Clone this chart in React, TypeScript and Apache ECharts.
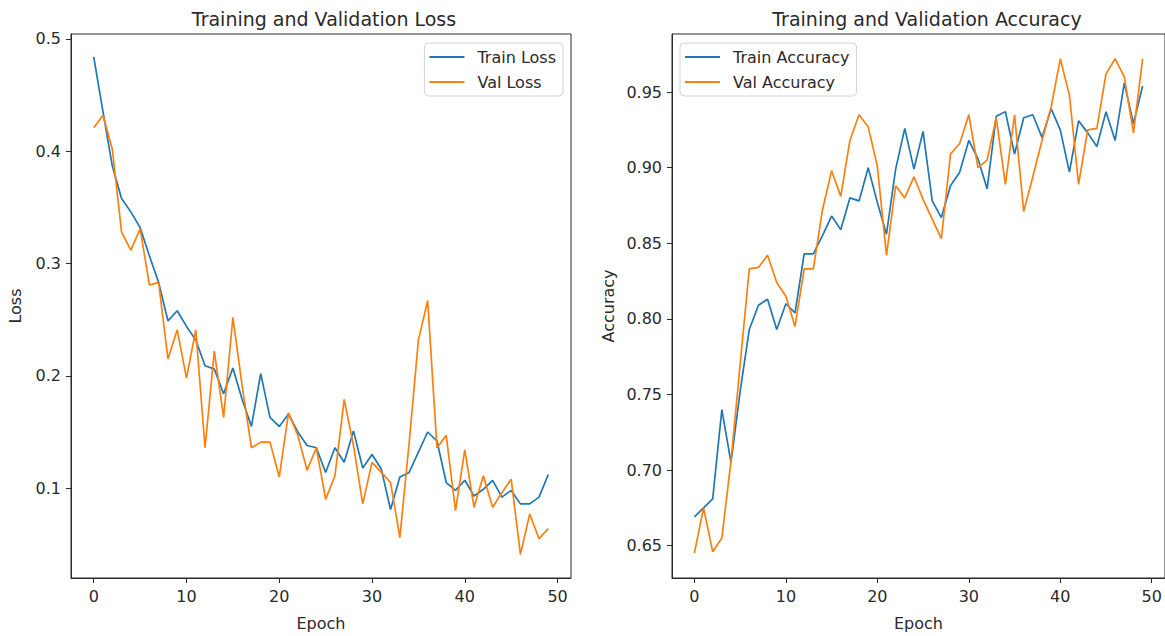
import React, { useEffect, useRef } from "react";
import * as echarts from "echarts";

const epochs: number[] = Array.from({ length: 50 }, (_, i) => i);

const trainLoss: number[] = [
  0.484, 0.435, 0.387, 0.358, 0.346, 0.332, 0.307, 0.283, 0.249, 0.258,
  0.244, 0.232, 0.209, 0.206, 0.184, 0.207, 0.179, 0.155, 0.202, 0.163,
  0.155, 0.166, 0.150, 0.138, 0.136, 0.114, 0.136, 0.123, 0.151, 0.118,
  0.130, 0.117, 0.081, 0.110, 0.114, 0.132, 0.150, 0.142, 0.105, 0.098,
  0.107, 0.093, 0.099, 0.107, 0.092, 0.098, 0.086, 0.086, 0.092, 0.112,
];

const valLoss: number[] = [
  0.421, 0.432, 0.402, 0.328, 0.312, 0.331, 0.281, 0.283, 0.215, 0.241,
  0.198, 0.241, 0.136, 0.222, 0.163, 0.252, 0.191, 0.136, 0.141, 0.141,
  0.110, 0.167, 0.147, 0.116, 0.136, 0.090, 0.111, 0.179, 0.138, 0.086,
  0.123, 0.114, 0.105, 0.056, 0.140, 0.232, 0.267, 0.136, 0.147, 0.080,
  0.134, 0.083, 0.111, 0.083, 0.096, 0.108, 0.041, 0.077, 0.055, 0.064,
];

const trainAcc: number[] = [
  0.669, 0.675, 0.681, 0.740, 0.705, 0.752, 0.793, 0.809, 0.813, 0.793,
  0.810, 0.804, 0.843, 0.843, 0.855, 0.868, 0.859, 0.880, 0.878, 0.900,
  0.877, 0.856, 0.899, 0.926, 0.899, 0.924, 0.878, 0.867, 0.888, 0.897,
  0.918, 0.906, 0.886, 0.934, 0.937, 0.909, 0.933, 0.935, 0.920, 0.939,
  0.925, 0.897, 0.931, 0.923, 0.914, 0.937, 0.918, 0.956, 0.929, 0.954,
];

const valAcc: number[] = [
  0.645, 0.675, 0.646, 0.655, 0.706, 0.770, 0.833, 0.834, 0.842, 0.824,
  0.815, 0.795, 0.833, 0.833, 0.872, 0.898, 0.881, 0.918, 0.935, 0.927,
  0.901, 0.842, 0.888, 0.880, 0.894, 0.879, 0.866, 0.853, 0.909, 0.916,
  0.935, 0.900, 0.905, 0.933, 0.889, 0.935, 0.871, 0.894, 0.918, 0.940,
  0.972, 0.948, 0.889, 0.925, 0.926, 0.962, 0.972, 0.960, 0.923, 0.972,
];

const xTicks: number[] = [0, 10, 20, 30, 40, 50];
const lossTicks: number[] = [0.1, 0.2, 0.3, 0.4, 0.5];
const accTicks: number[] = [0.65, 0.7, 0.75, 0.8, 0.85, 0.9, 0.95];

const BLUE = "#1f77b4";
const ORANGE = "#ff7f0e";
const INK = "#2a2a2a";
const FONT = "DejaVu Sans";

export default function App() {
  const ref = useRef<HTMLDivElement>(null);

  useEffect(() => {
    if (!ref.current) return;
    const chart = echarts.init(ref.current, undefined, { renderer: "svg" });

    const xAxisBase = (gridIndex: number) => ({
      type: "value" as const,
      gridIndex,
      min: -2.45,
      max: 51.45,
      name: "Epoch",
      nameLocation: "middle" as const,
      nameGap: 37,
      nameTextStyle: { color: INK, fontSize: 16, fontFamily: FONT },
      axisLine: { show: true, onZero: false, lineStyle: { color: INK, width: 1 } },
      axisTick: { show: true, length: 5, customValues: xTicks, lineStyle: { color: INK } },
      axisLabel: {
        customValues: xTicks,
        color: INK,
        fontSize: 16,
        fontFamily: FONT,
        margin: 10,
        formatter: (v: number) => String(v),
      },
      splitLine: { show: false },
    });

    const yAxisBase = (
      gridIndex: number,
      name: string,
      min: number,
      max: number,
      ticks: number[],
      digits: number,
      nameGap: number
    ) => ({
      type: "value" as const,
      gridIndex,
      min,
      max,
      name,
      nameLocation: "middle" as const,
      nameGap,
      nameTextStyle: { color: INK, fontSize: 16, fontFamily: FONT },
      axisLine: { show: true, onZero: false, lineStyle: { color: INK, width: 1 } },
      axisTick: { show: true, length: 5, customValues: ticks, lineStyle: { color: INK } },
      axisLabel: {
        customValues: ticks,
        color: INK,
        fontSize: 16,
        fontFamily: FONT,
        margin: 10,
        formatter: (v: number) => v.toFixed(digits),
      },
      splitLine: { show: false },
    });

    const lineSeries = (name: string, data: number[], color: string, idx: number) => ({
      type: "line" as const,
      name,
      xAxisIndex: idx,
      yAxisIndex: idx,
      data: epochs.map((e, i) => [e, data[i]]),
      showSymbol: false,
      symbol: "none",
      lineStyle: { color, width: 1.7 },
      itemStyle: { color },
      z: name.startsWith("Val") ? 3 : 2,
    });

    const legendBase = {
      orient: "vertical" as const,
      top: 43,
      icon: "rect",
      itemWidth: 35,
      itemHeight: 2,
      itemGap: 7,
      padding: [5, 7, 5, 5],
      borderColor: "#d4d4d4",
      borderWidth: 1,
      borderRadius: 4,
      backgroundColor: "rgba(255,255,255,0.8)",
      textStyle: { color: INK, fontSize: 16, fontFamily: FONT, lineHeight: 18, padding: [0, 0, 0, 8] },
    };

    chart.setOption({
      animation: false,
      backgroundColor: "#ffffff",
      textStyle: { fontFamily: FONT },
      title: [
        {
          text: "Training and Validation Loss",
          left: 319,
          top: 4,
          textAlign: "center",
          textStyle: { color: INK, fontSize: 19, fontWeight: "normal", fontFamily: FONT },
        },
        {
          text: "Training and Validation Accuracy",
          left: 922,
          top: 4,
          textAlign: "center",
          textStyle: { color: INK, fontSize: 19, fontWeight: "normal", fontFamily: FONT },
        },
      ],
      legend: [
        {
          ...legendBase,
          right: 602,
          data: [
            { name: "Train Loss", itemStyle: { color: BLUE } },
            { name: "Val Loss", itemStyle: { color: ORANGE } },
          ],
        },
        {
          ...legendBase,
          left: 680,
          data: [
            { name: "Train Accuracy", itemStyle: { color: BLUE } },
            { name: "Val Accuracy", itemStyle: { color: ORANGE } },
          ],
        },
      ],
      grid: [
        { left: 71, top: 34, width: 500, height: 545, show: true, borderColor: INK, borderWidth: 1, backgroundColor: "transparent" },
        { left: 672, top: 34, width: 500, height: 545, show: true, borderColor: INK, borderWidth: 1, backgroundColor: "transparent" },
      ],
      xAxis: [xAxisBase(0), xAxisBase(1)],
      yAxis: [
        yAxisBase(0, "Loss", 0.02, 0.5044, lossTicks, 1, 48),
        yAxisBase(1, "Accuracy", 0.6286, 0.9884, accTicks, 2, 56),
      ],
      series: [
        lineSeries("Train Loss", trainLoss, BLUE, 0),
        lineSeries("Val Loss", valLoss, ORANGE, 0),
        lineSeries("Train Accuracy", trainAcc, BLUE, 1),
        lineSeries("Val Accuracy", valAcc, ORANGE, 1),
      ],
    });

    return () => chart.dispose();
  }, []);

  return (
    <div
      ref={ref}
      style={{ position: "fixed", left: 0, top: 0, width: 1165, height: 636, background: "#fff" }}
    />
  );
}
